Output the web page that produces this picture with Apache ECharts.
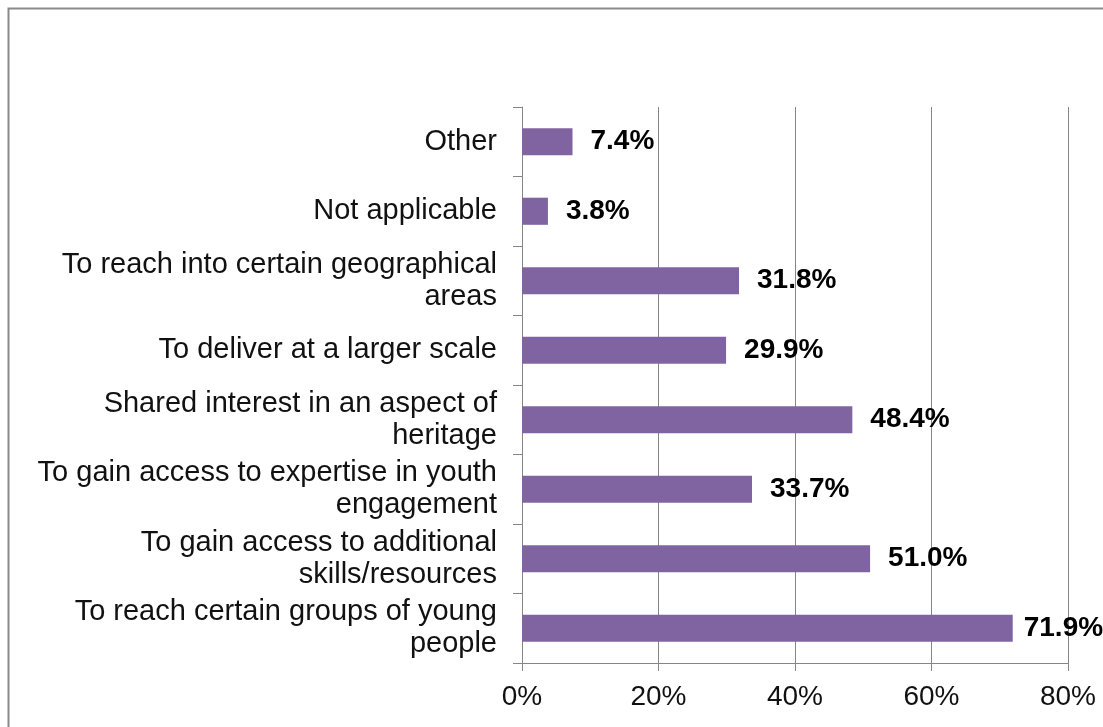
<!DOCTYPE html>
<html>
<head>
<meta charset="utf-8">
<script src="https://cdn.jsdelivr.net/npm/echarts@6/dist/echarts.min.js"></script>
<style>
html,body{margin:0;padding:0;background:#fff;}
#chart{width:1103px;height:727px;}
</style>
</head>
<body>
<div id="chart"></div>
<script>
const categories = [
  "To reach certain groups of young\npeople",
  "To gain access to additional\nskills/resources",
  "To gain access to expertise in youth\nengagement",
  "Shared interest in an aspect of\nheritage",
  "To deliver at a larger scale",
  "To reach into certain geographical\nareas",
  "Not applicable",
  "Other"
];
const values = [71.9, 51.0, 33.7, 48.4, 29.9, 31.8, 3.8, 7.4];
const xTicks = { min: 0, max: 80, interval: 20 };

const FONT = "'Liberation Sans', Arial, sans-serif";
const seriesData = values.map(v => (v > 65 ? { value: v, label: { distance: 11 } } : { value: v }));

const chart = echarts.init(document.getElementById('chart'));
chart.setOption({
  backgroundColor: '#fff',
  animation: false,
  graphic: [{
    type: 'rect', left: 6, top: 6,
    shape: { width: 1200, height: 800 },
    style: { fill: 'none', stroke: '#8a8a8a', lineWidth: 2 }
  }],
  grid: { left: 522, right: 35, top: 107, bottom: 64, containLabel: false },
  xAxis: {
    type: 'value', min: xTicks.min, max: xTicks.max, interval: xTicks.interval,
    axisLine: { show: true, lineStyle: { color: '#868686', width: 1 } },
    axisTick: { show: true, length: 8, lineStyle: { color: '#868686' } },
    splitLine: { show: true, lineStyle: { color: '#868686', width: 1 } },
    axisLabel: { formatter: '{value}%', fontFamily: FONT, fontSize: 28, color: '#111', margin: 20 }
  },
  yAxis: {
    type: 'category', data: categories,
    axisLine: { show: true, lineStyle: { color: '#868686', width: 1 } },
    axisTick: { show: true, length: 9, lineStyle: { color: '#868686' } },
    axisLabel: { fontFamily: FONT, fontSize: 29, color: '#111', margin: 25, align: 'right', lineHeight: 32 }
  },
  series: [{
    type: 'bar', data: seriesData, barCategoryGap: '61%',
    itemStyle: { color: '#8064A2' },
    label: {
      show: true, position: 'right', distance: 18,
      formatter: p => p.value.toFixed(1) + '%',
      fontFamily: FONT, fontSize: 28, fontWeight: 'bold', color: '#000'
    }
  }]
});
</script>
</body>
</html>
